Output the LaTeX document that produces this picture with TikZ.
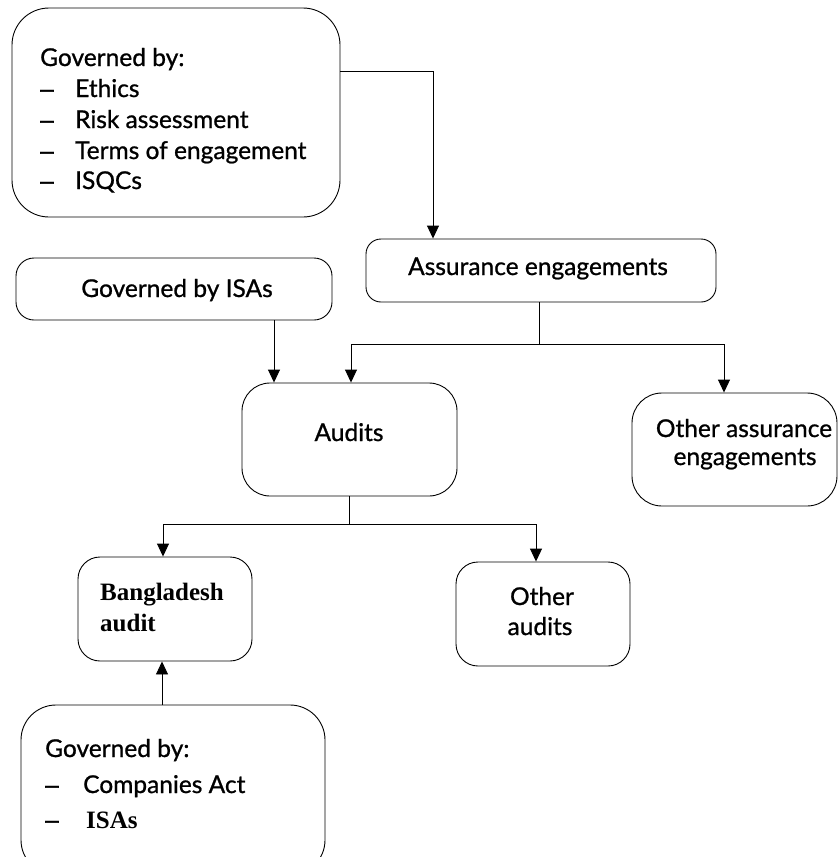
\documentclass[tikz,border=0pt]{standalone}
\usepackage{fontspec}
\setmainfont{Lato}[FakeBold=0.9]
\newfontfamily\tnr{Liberation Serif}
\newfontfamily\lsans{Liberation Sans}[FakeBold=1.2]
\usetikzlibrary{arrows.meta}
\begin{document}
\begin{tikzpicture}[x=1pt,y=-1pt,
  box/.style={draw, line width=0.9pt, rounded corners=#1, inner sep=0pt},
  box/.default=20pt,
  arr/.style={line width=0.9pt, -{Triangle[width=12pt,length=13pt]}},
  txt/.style={inner sep=0pt, anchor=base west, font=\fontsize{24.5}{28}\selectfont},
  ctxt/.style={inner sep=0pt, anchor=base, font=\fontsize{24.5}{28}\selectfont},
  dtxt/.style={inner sep=0pt, anchor=base west, font=\fontsize{24.5}{28}\selectfont\lsans},
  btxt/.style={inner sep=0pt, anchor=base west, font=\fontsize{25}{28}\selectfont\tnr\bfseries}]
\useasboundingbox (0,0) rectangle (838,857);
\clip (0,0) rectangle (838,857);
% boxes
\node[box=37pt, minimum width=328pt, minimum height=209pt] (gov1) at (176,112.5) {};
\node[box=18pt, minimum width=316pt, minimum height=62pt] (isas) at (174,289) {};
\node[box=15pt, minimum width=350pt, minimum height=63pt] (assur) at (541,270.5) {};
\node[box=28pt, minimum width=215pt, minimum height=113pt] (audits) at (349.5,439.5) {};
\node[box=30pt, minimum width=205pt, minimum height=113pt] (otherassur) at (734.5,449.5) {};
\node[box=22pt, minimum width=174pt, minimum height=104pt] (bang) at (165,609) {};
\node[box=22pt, minimum width=174pt, minimum height=104pt] (otheraud) at (543,614) {};
\node[box=35pt, minimum width=304pt, minimum height=170pt] (gov2) at (173,790) {};
% texts
\node[txt] (g1h) at (40,66) {Governed by:};
\node[dtxt] (g1d1) at (40,97) {–};
\node[txt] (g1i1) at (75,97) {Ethics};
\node[dtxt] (g1d2) at (40,128) {–};
\node[txt] (g1i2) at (75,128) {Risk assessment};
\node[dtxt] (g1d3) at (40,159) {–};
\node[txt] (g1i3) at (75,159) {Terms of engagement};
\node[dtxt] (g1d4) at (40,189) {–};
\node[txt] (g1i4) at (75,189) {ISQCs};
\node[ctxt] (isast) at (177,297) {Governed by ISAs};
\node[ctxt] (assurt) at (538,275) {Assurance engagements};
\node[ctxt] (auditst) at (349,441) {Audits};
\node[ctxt] (oa1) at (744,437) {Other assurance};
\node[ctxt] (oa2) at (745,465) {engagements};
\node[btxt] (b1) at (100,600) {Bangladesh};
\node[btxt] (b2) at (100,631) {audit};
\node[ctxt] (ot1) at (542,605) {Other};
\node[ctxt] (ot2) at (540,635) {audits};
\node[txt] (g2h) at (45,757) {Governed by:};
\node[dtxt] (g2d1) at (45,793) {–};
\node[txt] (g2i1) at (83,793) {Companies Act};
\node[dtxt] (g2d2) at (45,828) {–};
\node[btxt] (g2i2) at (86,828) {ISAs};
% connectors
\draw[arr] ([yshift=41.5pt]gov1.east) -| ([xshift=-108pt]assur.north);
\draw[arr] ([xshift=100pt]isas.south) -- ([xshift=100pt]isas.south |- audits.north);
\draw[arr] ([xshift=-2pt]assur.south) -- ++(0,42) -| ([xshift=1.5pt]audits.north);
\draw[arr] ([xshift=-2pt]assur.south) -- ++(0,42) -| ([xshift=-10.5pt]otherassur.north);
\draw[arr] (audits.south) -- ++(0,28) -| ([xshift=-2pt]bang.north);
\draw[arr] (audits.south) -- ++(0,28) -| ([xshift=-7pt]otheraud.north);
\draw[arr] ([xshift=-11pt]gov2.north) -- ([xshift=-11pt]gov2.north |- bang.south);
\end{tikzpicture}
\end{document}
